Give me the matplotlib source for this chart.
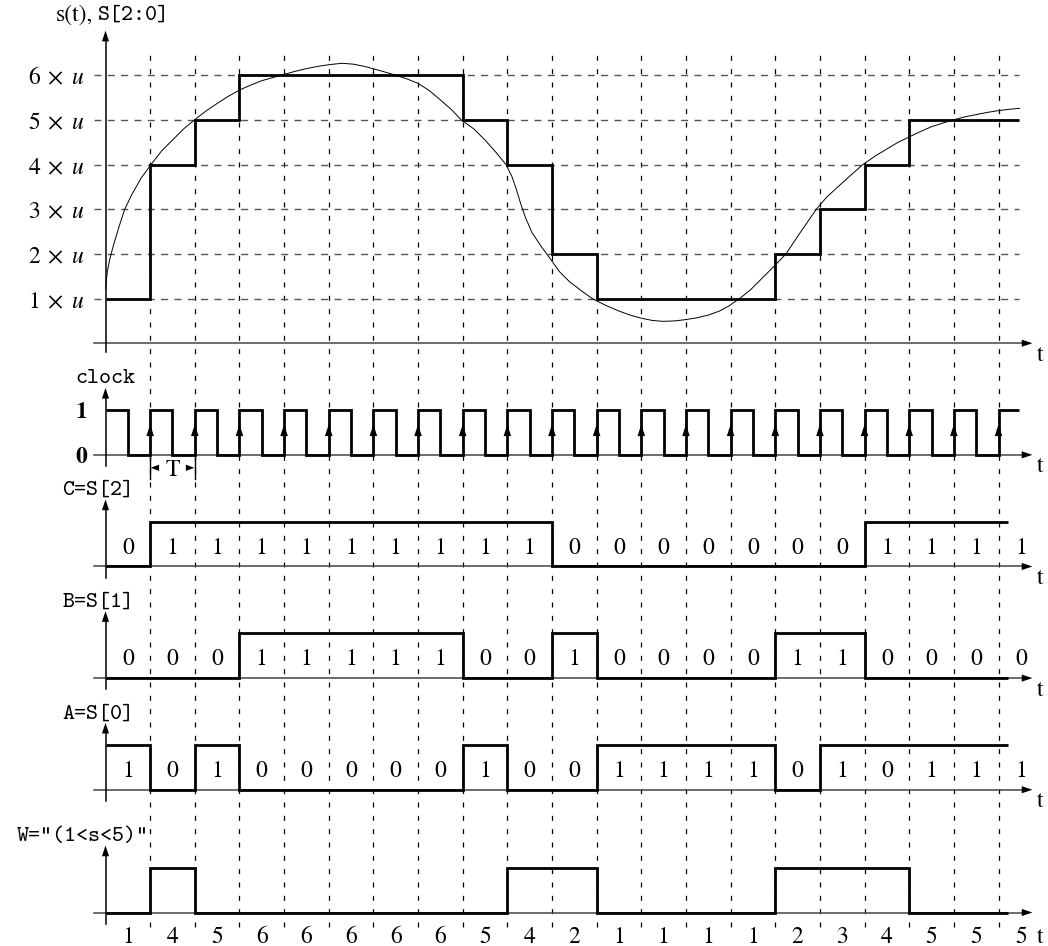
import matplotlib
matplotlib.use('Agg')
import matplotlib.pyplot as plt
import numpy as np

plt.rcParams['mathtext.fontset'] = 'stix'
plt.rcParams['lines.scale_dashes'] = False

SERIF = 'STIXGeneral'
MONO = 'cmtt10'

# --- data -----------------------------------------------------------------
# quantised samples S (one per clock period)
s_samples = [1, 4, 5, 6, 6, 6, 6, 6, 5, 4, 2, 1, 1, 1, 1, 2, 3, 4, 5, 5, 5]

# analog signal s(t), in units of u
curve_t = [0.0, 0.04, 0.1, 0.18, 0.3, 0.43, 0.6, 0.8, 1.02, 1.25, 1.5, 1.75,
           1.99, 2.25, 2.5, 2.75, 3.0, 3.25, 3.5, 3.93, 4.25, 4.5, 4.75, 5.02,
           5.3, 5.55, 5.8, 6.1, 6.51, 6.75, 7.0, 7.25, 7.5, 7.75, 7.97, 8.25,
           8.5, 8.75, 8.97, 9.1, 9.2, 9.3, 9.4, 9.55, 9.75, 9.94, 10.17,
           10.39, 10.65, 10.9, 11.2, 11.5, 11.75, 12.0, 12.25, 12.48, 12.75,
           13.0, 13.25, 13.5, 13.75, 13.97, 14.2, 14.45, 14.7, 14.95, 15.24,
           15.54, 15.92, 16.15, 16.4, 16.7, 16.96, 17.25, 17.5, 17.75, 18.0,
           18.25, 18.5, 18.75, 18.98, 19.25, 19.5, 19.75, 20.0, 20.25, 20.47]
curve_v = [1.22, 1.6, 1.9, 2.2, 2.6, 3.0, 3.35, 3.7, 4.0, 4.3, 4.55, 4.8,
           5.0, 5.2, 5.37, 5.53, 5.67, 5.78, 5.88, 6.0, 6.09, 6.15, 6.2, 6.24,
           6.27, 6.25, 6.2, 6.12, 6.0, 5.92, 5.82, 5.66, 5.45, 5.23, 5.0, 4.8,
           4.55, 4.27, 4.0, 3.74, 3.45, 3.12, 2.83, 2.48, 2.18, 1.92, 1.6,
           1.38, 1.18, 1.0, 0.85, 0.72, 0.63, 0.56, 0.51, 0.49, 0.5,
           0.53, 0.57, 0.63, 0.72, 0.84, 1.0, 1.2, 1.45, 1.7, 2.0,
           2.45, 3.0, 3.27, 3.5, 3.77, 4.0, 4.2, 4.35, 4.5, 4.62,
           4.74, 4.85, 4.93, 5.0, 5.07, 5.12, 5.17, 5.21, 5.24, 5.26]

# clock, one level per half period
clock_levels = [1, 0, 1, 0, 1, 0, 1, 0, 1, 0, 1, 0, 1, 0, 1, 0, 1, 0, 1, 0,
                1, 0, 1, 0, 1, 0, 1, 0, 1, 0, 1, 0, 1, 0, 1, 0, 1, 0, 1, 0, 1]

# bit labels written in each period
c_labels = [0, 1, 1, 1, 1, 1, 1, 1, 1, 1, 0, 0, 0, 0, 0, 0, 0, 1, 1, 1, 1]
b_labels = [0, 0, 0, 1, 1, 1, 1, 1, 0, 0, 1, 0, 0, 0, 0, 1, 1, 0, 0, 0, 0]
a_labels = [1, 0, 1, 0, 0, 0, 0, 0, 1, 0, 0, 1, 1, 1, 1, 0, 1, 0, 1, 1, 1]

# drawn waveform levels per period
c_wave = [0, 1, 1, 1, 1, 1, 1, 1, 1, 1, 0, 0, 0, 0, 0, 0, 0, 1, 1, 1, 1]
b_wave = [0, 0, 0, 1, 1, 1, 1, 1, 0, 0, 1, 0, 0, 0, 0, 1, 1, 0, 0, 0, 0]
a_wave = [1, 0, 1, 0, 0, 0, 0, 0, 1, 0, 0, 1, 1, 1, 1, 0, 1, 1, 1, 1, 1]
w_wave = [0, 1, 0, 0, 0, 0, 0, 0, 0, 1, 1, 0, 0, 0, 0, 1, 1, 1, 0, 0, 0]

ytick_levels = [1, 2, 3, 4, 5, 6]
ytick_labels = [r'$%d\;\times\;u$' % v for v in ytick_levels]

# --- layout -----------------------------------------------------------------
PX = 44.65
Y_S, Y_CLK, Y_C, Y_B, Y_A, Y_W = 13.5, 11.0, 8.5, 6.0, 3.5, 0.75
T_END = 20.47
T_END_BITS = 20.22
FS = 17      # serif digits
FM = 16.5    # typewriter labels

fig = plt.figure(figsize=(10.48, 9.46), dpi=100)
ax = fig.add_axes([0, 0, 1, 1])
ax.set_xlim(-105.5 / PX, (1048 - 105.5) / PX)
ax.set_ylim(0, 946 / PX)
ax.axis('off')


def x_axis(y0, ty=None):
    ax.plot([-0.25, 20.55], [y0, y0], color='#444', lw=1.1, zorder=2)
    ax.fill([20.76, 20.52, 20.52], [y0, y0 + 0.08, y0 - 0.08], color='k', lw=0, zorder=3)
    if ty is not None:
        ax.text(20.93, ty, 't', fontsize=FS, family=SERIF, ha='center', va='center')


def y_axis(y0, top, below=0.25):
    ax.plot([0, 0], [y0 - below, top - 0.2], color='k', lw=1.1, zorder=2)
    ax.fill([0, -0.08, 0.08], [top, top - 0.24, top - 0.24], color='k', lw=0, zorder=3)


def bits(y0, wave, labels, name, name_x=0.64):
    edges = list(range(len(wave))) + [T_END_BITS]
    ax.stairs(np.array(wave) + y0, edges, baseline=None, color='k', lw=2, zorder=4)
    if labels is not None:
        for k, v in enumerate(labels):
            ax.text(k + 0.5, y0 + 0.47, str(v), fontsize=FS, family=SERIF,
                    ha='center', va='center_baseline')
        x_axis(y0, y0 - 0.27)
    else:
        x_axis(y0)
    y_axis(y0, y0 + 1.5)
    ax.text(name_x, y0 + 1.7, name, fontsize=FM, family=MONO, ha='right', va='center')


# vertical sampling grid
for k in range(1, len(s_samples)):
    ax.plot([k, k], [0.42, 20.05], color='k', lw=0.9, dashes=(3.6, 6.0), zorder=1)

# top panel: s(t) and S
for i, v in enumerate(ytick_levels):
    ax.plot([-0.25, T_END], [Y_S + v, Y_S + v], color='#555', lw=1, dashes=(5.0, 4.6), zorder=1)
    ax.text(-0.47, Y_S + v, ytick_labels[i], fontsize=FS,
            ha='right', va='center_baseline')
x_axis(Y_S, Y_S - 0.28)
y_axis(Y_S, Y_S + 7.0, below=0.2)
edges = list(range(len(s_samples))) + [T_END]
ax.stairs(np.array(s_samples) + Y_S, edges, baseline=None, color='k', lw=2, zorder=4)
ax.plot(curve_t, np.array(curve_v) + Y_S, color='k', lw=0.7, zorder=5)
ax.text(-0.29, 20.85, 's(t),', fontsize=FS, family=SERIF, ha='right', va='center')
ax.text(-0.17, 20.85, 'S[2:0]', fontsize=FM, family=MONO, ha='left', va='center')

# clock
edges_clk = [i * 0.5 for i in range(len(clock_levels))] + [T_END]
ax.stairs(np.array(clock_levels) + Y_CLK, edges_clk, baseline=None, color='k', lw=2, zorder=4)
for i in range(1, len(clock_levels)):
    if clock_levels[i - 1] == 0 and clock_levels[i] == 1:
        tk = i * 0.5
        ax.fill([tk, tk - 0.085, tk + 0.085],
                [Y_CLK + 0.68, Y_CLK + 0.42, Y_CLK + 0.42], color='k', lw=0, zorder=5)
x_axis(Y_CLK, Y_CLK - 0.25)
y_axis(Y_CLK, Y_CLK + 1.5)
ax.text(0, Y_CLK + 1.72, 'clock', fontsize=FM, family=MONO, ha='center', va='center')
ax.text(-0.4, Y_CLK + 1, '1', fontsize=FS, family=SERIF, weight='bold', ha='right', va='center_baseline')
ax.text(-0.4, Y_CLK, '0', fontsize=FS, family=SERIF, weight='bold', ha='right', va='center_baseline')

# period T dimension
ty = Y_CLK - 0.29
for tk in (1, 2):
    ax.plot([tk, tk], [Y_CLK, Y_CLK - 0.55], color='k', lw=1, zorder=3)
ax.fill([1.01, 1.2, 1.2], [ty, ty + 0.07, ty - 0.07], color='k', lw=0)
ax.fill([1.99, 1.8, 1.8], [ty, ty + 0.07, ty - 0.07], color='k', lw=0)
ax.text(1.5, ty, 'T', fontsize=FS, family=SERIF, ha='center', va='center_baseline')

# bit panels
bits(Y_C, c_wave, c_labels, 'C=S[2]')
bits(Y_B, b_wave, b_labels, 'B=S[1]')
bits(Y_A, a_wave, a_labels, 'A=S[0]')

# window signal, with the sample values written underneath
bits(Y_W, w_wave, None, 'W="(1<s<5)"', name_x=0.97)
for k, v in enumerate(s_samples):
    ax.text(k + 0.5, Y_W - 0.5, str(v), fontsize=FS, family=SERIF, ha='center', va='center_baseline')
ax.text(20.93, Y_W - 0.5, 't', fontsize=FS, family=SERIF, ha='center', va='center_baseline')

fig.savefig('out.png', dpi=100)
